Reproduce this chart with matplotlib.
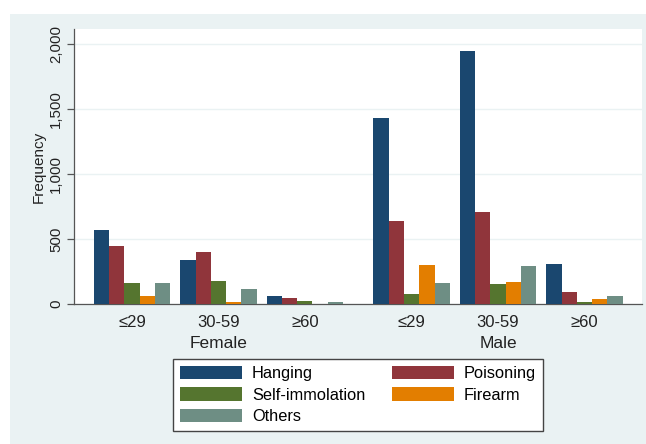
import matplotlib
matplotlib.use("Agg")
import matplotlib.pyplot as plt
from matplotlib.patches import Rectangle
import numpy as np

plt.rcParams['font.family'] = ['Liberation Sans', 'DejaVu Sans']

# Data
sexes = ["Female", "Male"]
age_groups = ["≤29", "30-59", "≥60"]
methods = ["Hanging", "Poisoning", "Self-immolation", "Firearm", "Others"]

# counts per method, ordered Female(≤29, 30-59, ≥60), Male(≤29, 30-59, ≥60)
hanging = [571, 338, 62, 1428, 1949, 308]
poisoning = [443, 400, 44, 638, 708, 92]
self_immolation = [159, 177, 25, 74, 154, 18]
firearm = [62, 13, 2, 297, 172, 36]
others = [161, 113, 16, 164, 292, 64]

series = [hanging, poisoning, self_immolation, firearm, others]
colors = ["#1a476f", "#90353b", "#55752f", "#e37e00", "#6e8e84"]
panel_bg = "#eaf2f3"

W, H = 646, 444
fig = plt.figure(figsize=(W / 100, H / 100), dpi=100, facecolor="white")

# light outer panel
fig.patches.append(Rectangle((10 / W, 0), (W - 10) / W, (H - 14) / H,
                             transform=fig.transFigure, facecolor=panel_bg,
                             edgecolor="none", zorder=-10))

ax = fig.add_axes([74 / W, 140 / H, (642 - 74) / W, (304 - 29) / H])
ax.set_zorder(1)
ax.set_facecolor("white")

# layout of the grouped bars (units of one bar width)
n_m = len(methods)
gap_age = 0.66
gap_sex = 2.0
group_starts = []
pos = 0.0
for si in range(len(sexes)):
    for ai in range(len(age_groups)):
        group_starts.append(pos)
        pos += n_m
        if ai < len(age_groups) - 1:
            pos += gap_age
    pos += gap_sex
group_starts = np.array(group_starts)
end = group_starts[-1] + n_m

handles = []
for mi, (vals, col) in enumerate(zip(series, colors)):
    b = ax.bar(group_starts + mi, vals, width=1.0, align="edge", color=col,
               edgecolor="none", label=methods[mi], zorder=3)
    handles.append(b)

ax.set_xlim(-1.3, end + 1.27)
ax.set_ylim(0, 2115)

# y axis
ax.set_yticks([0, 500, 1000, 1500, 2000])
ax.set_yticklabels(["0", "500", "1,000", "1,500", "2,000"], rotation=90,
                   va="center", fontsize=10.8, color="#222222")
ax.tick_params(axis="y", length=5, width=0.9, color="#555555", pad=3)
ax.yaxis.grid(True, color=panel_bg, linewidth=1.0, zorder=0)
ax.set_axisbelow(True)
ax.set_ylabel("Frequency", fontsize=11, color="#222222", labelpad=2)

# x axis: age group labels under each group
centers = group_starts + n_m / 2
ax.set_xticks(centers)
ax.set_xticklabels(age_groups * len(sexes), fontsize=12, color="#222222")
ax.tick_params(axis="x", length=0, pad=8)

for s in ["top", "right"]:
    ax.spines[s].set_visible(False)
for s in ["left", "bottom"]:
    ax.spines[s].set_color("#555555")
    ax.spines[s].set_linewidth(0.9)

# sex labels under the middle age group
for si, sx in enumerate(sexes):
    c = centers[si * len(age_groups) + 1]
    ax.text(c, -(343 - 304) / 275, sx, transform=ax.get_xaxis_transform(),
            ha="center", va="center", fontsize=12.5, color="#222222")

# legend filled row by row: reorder for matplotlib's column-wise filling
order = [0, 2, 4, 1, 3]
fs = 11.8
leg = fig.legend([handles[i] for i in order], [methods[i] for i in order],
                 loc="upper left", bbox_to_anchor=(173 / W, 1 - 359 / H),
                 ncol=2, fontsize=fs, frameon=True, fancybox=False,
                 framealpha=1.0, facecolor="white",
                 handlelength=3.78, handleheight=0.9, handletextpad=0.62,
                 columnspacing=1.6, labelspacing=0.36, borderpad=0.42,
                 borderaxespad=0)
leg.get_frame().set_edgecolor("#444444")
leg.get_frame().set_linewidth(1.0)

fig.savefig("out.png", dpi=100, facecolor="white")
